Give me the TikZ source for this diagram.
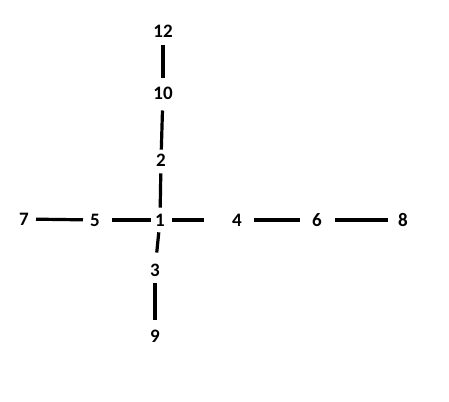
\documentclass[tikz,border=0pt]{standalone}
\usepackage{fontspec}
\setmainfont{Carlito}
\tikzset{
  lbl/.style={inner sep=0pt,font=\fontsize{19}{20}\selectfont\bfseries},
  link/.style={line width=3.2pt}
}
\begin{document}
\begin{tikzpicture}[x=1pt,y=-1pt]
   \useasboundingbox (0,0) rectangle (449,401);
   \foreach \n/\x/\y in
     {12/163/31, 10/163/93, 2/161/160,
      7/24/219, 5/95/220, 1/160/220,
      4/237/220, 6/317/220, 8/403/220,
      3/155/270, 9/155/336}
     \node[lbl] (n\n) at (\x,\y) {\n};
   \foreach \a/\b/\s/\t in
     {12/10/8/9, 10/2/11/4, 2/1/7/6,
      7/5/7/7, 5/1/12/4, 1/4/7/28,
      4/6/12/12, 6/8/13/10,
      1/3/6/11, 3/9/7/10}
     \draw[link,shorten <=\s pt,shorten >=\t pt] (n\a) -- (n\b);
\end{tikzpicture}
\end{document}
